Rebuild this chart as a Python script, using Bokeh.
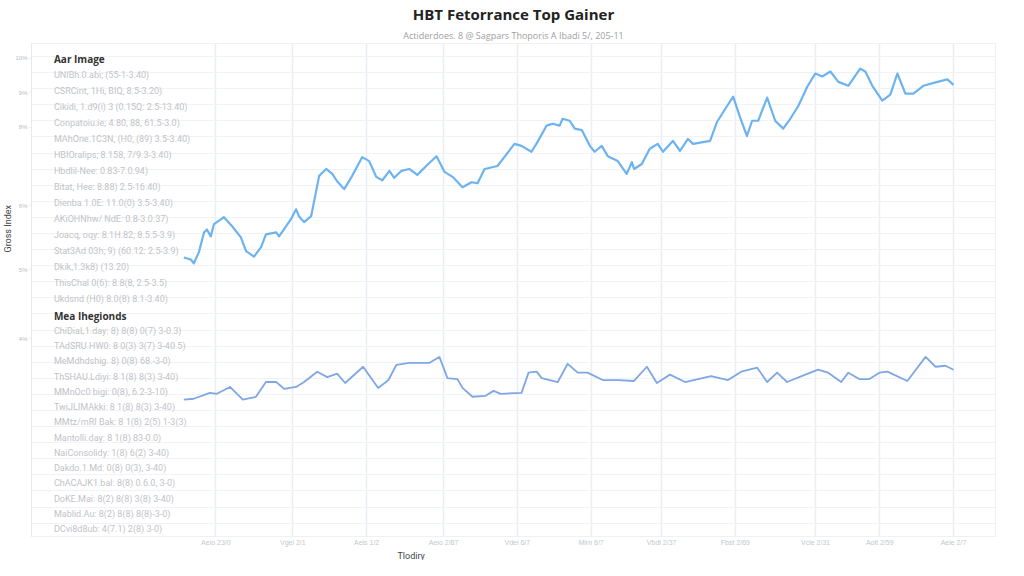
from bokeh.plotting import figure
from bokeh.models import ColumnDataSource, FixedTicker, Title, LabelSet, Range1d
from bokeh.core.properties import value
from bokeh.embed import file_html
from bokeh.resources import INLINE
import numpy as np

# ---------------- data ----------------
top_x = [0, 2.2, 3.1, 4.7, 6.3, 7.2, 8.4, 9.4, 10.3, 12.5, 15, 17.8, 19.4, 21.9, 24.1, 25.6,
         28.8, 29.7, 31.9, 33.4, 35, 35.9, 37.5, 39.7, 42.2, 44.4, 46.3, 47.8, 50, 52.5, 55.6,
         57.8, 60, 61.9, 64.1, 65.6, 67.8, 70.3, 72.8, 75.9, 78.8, 81.3, 83.8, 86.9, 89.7, 91.6,
         93.8, 97.8, 103.1, 105.3, 108.4, 110.3, 113.1, 115, 117.2, 118.1, 120.3, 121.9, 124.1,
         126.6, 128.1, 130.3, 132.2, 135.3, 138.1, 139.7, 140.4, 142.8, 145.3, 147.8, 149.4,
         152.5, 154.7, 157.2, 158.8, 164.1, 166.3, 169.4, 171.3, 173.4, 175.6, 177.2, 179.1,
         181.9, 184.4, 186.9, 189.1, 191.6, 194.4, 196.9, 199.1, 201.6, 204.1, 207.2, 210.9,
         212.5, 214.7, 217.8, 220.3, 222.5, 225, 227.5, 230.6, 235, 238.1, 240]
top_y = [56.5, 56.1, 55.3, 57.6, 61.6, 62.2, 60.8, 63.3, 63.7, 64.7, 62.9, 60.6, 57.8, 56.7, 58.6,
         61.2, 61.6, 60.8, 62.9, 64.3, 66.3, 64.9, 63.7, 64.9, 73.1, 74.5, 73.5, 72.0, 70.4, 73.1,
         76.9, 76.1, 72.9, 72.2, 74.1, 72.7, 74.1, 74.5, 73.3, 75.3, 77.1, 73.9, 72.9, 70.8, 71.8,
         71.6, 74.5, 75.1, 79.6, 79.2, 78.0, 80.0, 83.3, 83.7, 83.3, 84.7, 84.3, 82.7, 82.4, 79.2,
         78.0, 79.2, 77.1, 76.1, 73.5, 75.9, 74.5, 75.5, 78.6, 79.6, 78.0, 80.2, 78.2, 80.6, 79.6,
         80.2, 84.1, 87.3, 89.2, 85.1, 81.2, 84.3, 84.3, 89.0, 84.3, 82.7, 84.7, 87.3, 91.2, 93.9,
         93.3, 94.3, 92.2, 91.4, 94.9, 94.3, 91.4, 88.4, 89.6, 93.9, 89.8, 89.8, 91.4, 92.2, 92.7,
         91.6]

bottom_x = [0, 3.1, 8.1, 10.3, 14.4, 18.4, 22.5, 25.6, 28.8, 31.3, 35, 37.5, 41.6, 44.7, 47.8,
            50.3, 55.9, 60.6, 63.8, 66.3, 70.3, 76.6, 79.7, 82.2, 85.3, 86.9, 90, 94.1, 96.6,
            98.8, 105.3, 107.5, 110, 111.6, 116.6, 119.7, 122.8, 125.9, 130.6, 135.6, 140.3,
            144.4, 147.5, 151.6, 156.3, 164.4, 169.7, 173.8, 178.8, 181.9, 185, 188.1, 193.8,
            197.8, 200.9, 205, 207.2, 210.6, 213.8, 216.9, 219.4, 225.6, 231.3, 234.4, 237.5, 240]
bottom_y = [27.6, 27.8, 29.0, 28.8, 30.2, 27.6, 28.2, 31.2, 31.2, 29.8, 30.2, 31.2, 33.3, 32.2,
            32.9, 31.0, 34.3, 30.0, 31.6, 34.7, 35.1, 35.1, 36.3, 32.0, 31.8, 30.0, 28.2, 28.4,
            29.4, 28.8, 29.0, 33.1, 33.3, 32.0, 31.2, 34.9, 33.1, 33.1, 31.6, 31.6, 31.4, 34.3,
            31.0, 32.7, 31.2, 32.4, 31.6, 33.3, 34.1, 31.2, 33.1, 31.2, 32.7, 33.7, 33.1, 31.2,
            33.1, 31.8, 31.8, 33.1, 33.3, 31.4, 36.3, 34.3, 34.5, 33.7]

x_ticks = [10, 34, 57, 81, 104, 127, 149, 172, 197, 217, 240]
x_tick_labels = ["Aeio 23/0", "Vgei 2/1", "Aeis 1/2", "Aeio 2/87", "Vdei 6/7", "Mirn 6/7",
                 "Vbdl 2/37", "Fbst 2/69", "Vcle 2/31", "Aolt 2/59", "Aele 2/7"]
y_ticks = [97, 90, 83, 67, 54, 40]
y_tick_labels = ["10%", "9%", "8%", "6%", "5%", "4%"]

title_text = "HBT Fetorrance Top Gainer"
subtitle_text = "Actiderdoes. 8 @ Sagpars Thoporis A Ibadi 5/, 205-11"
x_label = "Tlodiry"
y_label = "Gross Index"

group1_title = "Aar Image"
group1_rows = ["UNIBh.0.abi; (55-1-3.40)", "CSRCint, 1Hi, BIQ, 8.5-3.20)",
               "Cikidi, 1.d9(i) 3 (0.15Q: 2.5-13.40)", "Conpatoiu.ie; 4.80, 88, 61.5-3.0)",
               "MAhOne.1C3N, (H0, (89) 3.5-3.40)", "HBIOralips; 8.158, 7/9.3-3.40)",
               "Hbdlil-Nee: 0.83-7.0.94)", "Bitat, Hee: 8.88) 2.5-16.40)",
               "Dienba.1.0E: 11.0(0) 3.5-3.40)", "AKiOHNhw/ NdE: 0.8-3.0.37)",
               "Joacq, oqy: 8.1H.82; 8.5.5-3.9)", "Stat3Ad 03h; 9) (60.12: 2.5-3.9)",
               "Dkik,1.3k8) (13.20)", "ThisChal 0(6): 8.8(8, 2.5-3.5)",
               "Ukdsnd (H0) 8.0(8) 8.1-3.40)"]
group2_title = "Mea Ihegionds"
group2_rows = ["ChiDiaL1.day: 8) 8(8) 0(7) 3-0.3)", "TAdSRU.HW0: 8 0(3) 3(7) 3-40.5)",
               "MeMdhdshig. 8) 0(8) 68.-3-0)", "ThSHAU.Ldiyi: 8 1(8) 8(3) 3-40)",
               "MMnOc0 bigi: 0(8), 6.2-3-10)", "TwiJLIMAkki: 8 1(8) 8(3) 3-40)",
               "MMtz/mRI Bak: 8 1(8) 2(5) 1-3(3)", "Mantolli.day: 8 1(8) 83-0.0)",
               "NaiConsolidy: 1(8) 6(2) 3-40)", "Dakdo.1.Md: 0(8) 0(3), 3-40)",
               "ChACAJK1.bal: 8(8) 0.6.0, 3-0)", "DoKE.Mai: 8(2) 8(8) 3(8) 3-40)",
               "Mablid.Au: 8(2) 8(8) 8(8)-3-0)", "DCvi8d8ub: 4(7.1) 2(8) 3-0)"]

# ---------------- figure ----------------
p = figure(width=1008, height=560, output_backend="svg", toolbar_location=None,
           x_range=Range1d(-47.5, 253.1), y_range=Range1d(-0.2, 100.0),
           min_border_left=0, min_border_right=13, min_border_top=0, min_border_bottom=0)
p.background_fill_color = "white"
p.border_fill_color = "white"
p.outline_line_color = "#eef0f3"

# titles (subtitle first so the main title sits on top)
p.add_layout(Title(text=subtitle_text, align="center", text_font_size="9px",
                   text_color="#a0a0a0", text_font="Open Sans", text_font_style="normal",
                   standoff=4), "above")
p.add_layout(Title(text=title_text, align="center", text_font_size="15px",
                   text_color="#222222", text_font="Open Sans", text_font_style="bold",
                   standoff=2), "above")
p.add_layout(Title(text=x_label, align="left", offset=366, text_font_size="9px",
                   text_color="#444444", text_font="Roboto", text_font_style="normal",
                   standoff=0), "below")
p.add_layout(Title(text=y_label, align="left", offset=284, text_font_size="9px",
                   text_color="#444444", text_font="Roboto", text_font_style="normal",
                   standoff=0), "left")

# grids
p.xgrid.ticker = FixedTicker(ticks=x_ticks)
p.xgrid.grid_line_color = "#e9eef5"
p.xgrid.grid_line_width = 1.5
p.ygrid.ticker = FixedTicker(ticks=list(np.arange(97.35, -0.2, -3.27)))
p.ygrid.grid_line_color = "#f0f2f6"
p.ygrid.grid_line_width = 1

# axes
p.xaxis.ticker = FixedTicker(ticks=x_ticks)
p.xaxis.major_label_overrides = {t: l for t, l in zip(x_ticks, x_tick_labels)}
p.xaxis.major_label_text_font_size = "7px"
p.xaxis.major_label_text_color = "#c4c8ce"
p.xaxis.major_label_standoff = 2
p.xaxis.axis_line_color = "#eef0f3"
p.xaxis.major_tick_line_color = None
p.xaxis.major_tick_out = 0
p.xaxis.major_tick_in = 0
p.xaxis.minor_tick_line_color = None

p.yaxis.ticker = FixedTicker(ticks=y_ticks)
p.yaxis.major_label_overrides = {t: l for t, l in zip(y_ticks, y_tick_labels)}
p.yaxis.major_label_text_font_size = "6px"
p.yaxis.major_label_text_color = "#b8bcc2"
p.yaxis.major_label_standoff = 2
p.yaxis.axis_line_color = "#e6e9ee"
p.yaxis.major_tick_line_color = "#e6e9ee"
p.yaxis.major_tick_out = 2
p.yaxis.major_tick_in = 0
p.yaxis.minor_tick_line_color = None

# series
p.line(top_x, top_y, line_color="#6db3ef", line_width=2.2, line_join="round")
p.line(bottom_x, bottom_y, line_color="#7ea7e4", line_width=1.8, line_join="round")

# side text block
text_x = -40.5
g1_top, g1_step = 96.9, 3.26
g2_top, g2_step = 44.7, 3.1
hdr_src = ColumnDataSource(dict(x=[text_x, text_x], y=[g1_top, g2_top],
                                t=[group1_title, group2_title]))
rows_y = [g1_top - g1_step * (i + 1) for i in range(len(group1_rows))] + \
         [g2_top - g2_step * (i + 1) for i in range(len(group2_rows))]
rows_src = ColumnDataSource(dict(x=[text_x] * len(rows_y), y=rows_y,
                                 t=group1_rows + group2_rows))
p.add_layout(LabelSet(x="x", y="y", text="t", source=hdr_src, text_font=value("Open Sans"),
                      text_font_size=value("10px"), text_font_style=value("bold"),
                      text_color="#333333", text_baseline="middle"))
p.add_layout(LabelSet(x="x", y="y", text="t", source=rows_src, text_font=value("Roboto"),
                      text_font_size=value("9px"), text_color="#bfc3c9",
                      text_baseline="middle"))

open("out.html", "w").write(file_html(p, INLINE))
